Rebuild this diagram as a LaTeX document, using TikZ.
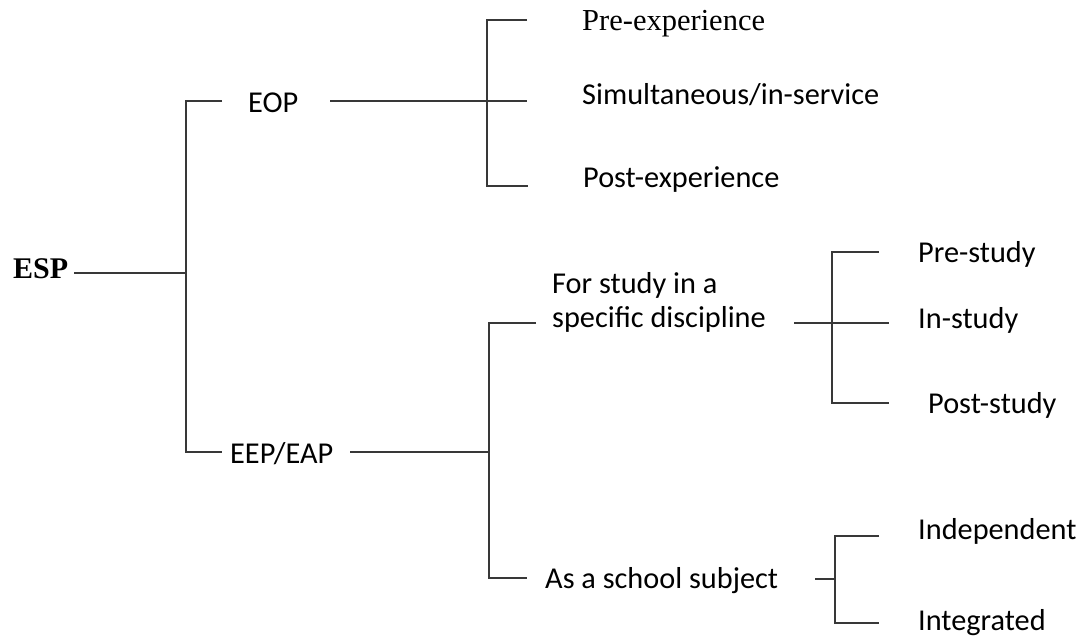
\documentclass[tikz,border=0pt]{standalone}
\usepackage{fontspec}
\setmainfont{Liberation Serif}
\newfontfamily\carl{Carlito}
\usetikzlibrary{calc}
\tikzset{
  ctext/.style={inner sep=0pt, anchor=base west, font=\carl\fontsize{30.3}{34}\selectfont, align=left},
  stext/.style={inner sep=0pt, anchor=base west, font=\fontsize{30.5}{35}\selectfont},
  conn/.style={draw=black!78, line width=1.25pt}
}
\begin{document}
\begin{tikzpicture}[x=1pt,y=-1pt]
\useasboundingbox (0,0) rectangle (1084,636);
% texts
\node[stext, font=\bfseries\fontsize{30}{35}\selectfont] (esp) at (13,279) {ESP};
\node[ctext] (eop) at (248,113) {EOP};
\node[ctext] (eep) at (230,463) {EEP/EAP};
\node[stext] (pre) at (582,31) {Pre-experience};
\node[ctext] (sim) at (582,105) {Simultaneous/in-service};
\node[ctext] (post) at (583,188) {Post-experience};
\node[ctext] (fs) at (552,327) {For study in a\\specific discipline};
\node[ctext] (sch) at (545,588) {As a school subject};
\node[ctext] (pst) at (918,263) {Pre-study};
\node[ctext] (ist) at (918,328) {In-study};
\node[ctext] (pos) at (928,413) {Post-study};
\node[ctext] (ind) at (918,539) {Independent};
\node[ctext] (int) at (918,630) {Integrated};
% junction coordinates
\coordinate (espR) at (74,273);
\coordinate (sJ) at (186,273);
\coordinate (sTop) at (186,101);
\coordinate (sBot) at (186,452);
\coordinate (eopL) at (222,101);
\coordinate (eepL) at (222,452);
\coordinate (eopR) at (330,101);
\coordinate (eJ) at (487,101);
\coordinate (eTop) at (487,20);
\coordinate (eBot) at (487,186);
\coordinate (preL) at (527,20);
\coordinate (simL) at (527,101);
\coordinate (postL) at (528,186);
\coordinate (eepR) at (350,452);
\coordinate (pJ) at (489,452);
\coordinate (pTop) at (489,323);
\coordinate (pBot) at (489,578);
\coordinate (fsL) at (536,323);
\coordinate (schL) at (527,578);
\coordinate (fsR) at (794,323);
\coordinate (fJ) at (832,323);
\coordinate (fTop) at (832,252);
\coordinate (fBot) at (832,403);
\coordinate (pstL) at (879,252);
\coordinate (istL) at (889,323);
\coordinate (posL) at (889,403);
\coordinate (schR) at (815,579);
\coordinate (cJ) at (835,579);
\coordinate (cTop) at (835,536);
\coordinate (cBot) at (835,623);
\coordinate (indL) at (879,536);
\coordinate (intL) at (879,623);
% connectors
\draw[conn] (espR) -- (sJ);
\draw[conn] (eopL) -- (sTop) -- (sBot) -- (eepL);
\draw[conn] (eopR) -- (simL);
\draw[conn] (preL) -- (eTop) -- (eBot) -- (postL);
\draw[conn] (eepR) -- (pJ);
\draw[conn] (fsL) -- (pTop) -- (pBot) -- (schL);
\draw[conn] (fsR) -- (istL);
\draw[conn] (pstL) -- (fTop) -- (fBot) -- (posL);
\draw[conn] (schR) -- (cJ);
\draw[conn] (indL) -- (cTop) -- (cBot) -- (intL);
\end{tikzpicture}
\end{document}
